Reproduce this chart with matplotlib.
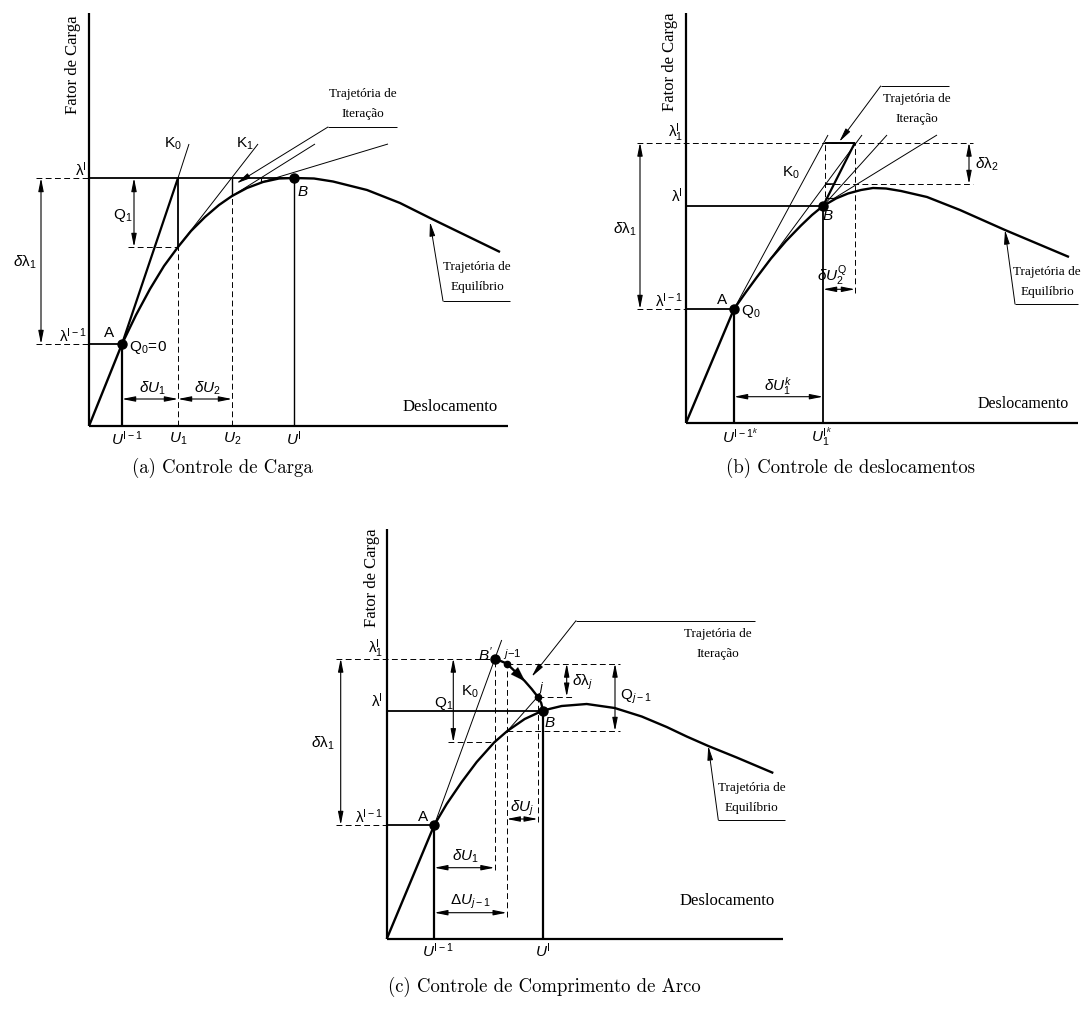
import matplotlib.pyplot as plt

plt.rcParams['mathtext.fontset'] = 'custom'
plt.rcParams['mathtext.rm'] = 'Liberation Sans'
plt.rcParams['mathtext.it'] = 'Liberation Sans:italic'
plt.rcParams['mathtext.bf'] = 'Liberation Sans:bold'

W, H = 1089, 1010

# (a) controle de carga  -- u = deslocamento, lam = fator de carga
a_curve_u = [0, 33, 47, 61, 75, 89, 102, 116, 130, 143, 158, 174, 190, 205, 225, 244, 278, 311, 341, 376, 411]
a_curve_lam = [0, 82, 111, 137, 160, 179, 195, 209, 221, 230, 238, 244, 247.5, 248, 247.5, 244.5, 236, 223, 208, 191, 174]
a_u = [33, 89, 143, 205]          # U^(I-1), U1, U2, U^I
a_lam = [82, 248]                 # lambda^(I-1), lambda^I
a_lam_iter = [179, 230, 243.6]    # curve hit at U1, U2 and next step
a_k0_u, a_k0_lam = [33, 89, 100], [82, 248, 282]
a_k1 = [(89, 179), (169, 282)]
a_k2 = [(143, 230), (226, 282)]
a_k3 = [(171.6, 243.6), (299, 282)]

# (b) controle de deslocamentos
b_curve_u = [0, 48, 60, 71, 85, 100, 115, 126, 137, 150, 162, 175, 187, 200, 215, 241, 274, 319, 383]
b_curve_lam = [0, 114, 131, 146, 164.5, 182, 197.5, 208, 217, 224.5, 229.5, 233, 235, 234.5, 232, 226, 213, 193, 166]
b_u = [48, 137, 169]              # U^(I-1)k, U1^Ik, U2
b_lam = [114, 217, 239, 280.5]    # lambda^(I-1), lambda^I, step 2, lambda1^I
b_k0 = [(48, 114), (142, 288)]
b_tangents = [[(71, 146), (176, 288)], [(137, 217), (201, 288)], [(147, 224), (251, 288)]]
b_iter = [(137, 217), (169, 280.5)]

# (c) controle de comprimento de arco
c_curve_u = [0, 47.6, 60, 75, 90, 107.6, 120.6, 138, 156.3, 175, 200, 228, 255, 280, 300, 321.6, 350, 386.6]
c_curve_lam = [0, 114, 135, 157, 177, 196.7, 208, 220, 228.5, 233, 235, 231, 222.5, 212, 202.5, 193, 181.5, 166]
c_arc_u = [107.8, 120, 130, 138, 145, 151, 154.5, 156.3]
c_arc_lam = [280.5, 275.5, 266, 258, 250, 242.3, 236, 228.5]
c_u = [47.6, 107.8, 120, 151, 156.3]         # A, B', j-1, j, B
c_lam = [114, 280.5, 275.5, 242.3, 228.5]
c_lam_q = [196.7, 208]
c_k0 = [(47.6, 114), (115, 299)]
c_kj = [(120.6, 208), (151, 242.3)]

DASH = (0, (6, 3.5))
SERIF = 'Liberation Serif'
LAM = r'\mathrm{\lambda}'

fig = plt.figure(figsize=(W / 100, H / 100), dpi=100)


def panel(px0, py0, px1, py1, ox, oy):
    ax = fig.add_axes([px0 / W, 1 - py1 / H, (px1 - px0) / W, (py1 - py0) / H])
    ax.set_xlim(px0 - ox, px1 - ox)
    ax.set_ylim(oy - py1, oy - py0)
    ax.axis('off')
    ax.patch.set_alpha(0)
    return ax


def line(ax, u, v, lw=0.7, ls='-', z=2):
    ax.plot(u, v, color='k', lw=lw, linestyle=ls, solid_capstyle='butt',
            dash_capstyle='butt', clip_on=False, zorder=z)


def dim(ax, p, q):
    ax.annotate('', xy=q, xytext=p,
                arrowprops=dict(arrowstyle='<|-|>,head_length=0.65,head_width=0.13',
                                color='k', lw=0.8, shrinkA=0, shrinkB=0, mutation_scale=12))


def leader(ax, tip, corner, end):
    line(ax, [corner[0], end[0]], [corner[1], end[1]])
    ax.annotate('', xy=tip, xytext=corner,
                arrowprops=dict(arrowstyle='-|>,head_length=0.7,head_width=0.14',
                                color='k', lw=0.7, shrinkA=0, shrinkB=0, mutation_scale=12))


def frame(ax, top, right, ylabel_u, xlabel_pos, xsize=12):
    line(ax, [0, 0], [0, top], lw=1.6, z=3)
    line(ax, [0, right], [0, 0], lw=1.6, z=3)
    ax.text(ylabel_u, 361.5, 'Fator de Carga', rotation=90, ha='center', va='center',
            family=SERIF, fontsize=12)
    ax.text(*xlabel_pos, 'Deslocamento', ha='center', va='center', family=SERIF, fontsize=xsize)


def txt(ax, u, v, s, size=11, ha='center', va='center'):
    ax.text(u, v, s, ha=ha, va=va, fontsize=size, family='Liberation Sans')


def note(ax, u, v, second):
    ax.text(u, v + 10, 'Trajetória de', ha='center', va='center', family=SERIF, fontsize=9.5)
    ax.text(u, v - 10, second, ha='center', va='center', family=SERIF, fontsize=9.5)


def dots(ax, u, v, ms=6.5):
    ax.plot(u, v, 'o', color='k', ms=ms, zorder=6, clip_on=False)


# ---------------- (a)
ax = panel(0, 0, 545, 500, 89, 426)
frame(ax, 413, 419, -16, (361, 19))
for lam in a_lam:
    line(ax, [-53, 0], [lam, lam], ls=DASH)
line(ax, [39, a_u[1]], [a_lam_iter[0]] * 2, ls=DASH)
line(ax, [a_u[1]] * 2, [0, a_lam_iter[0]], ls=DASH)
line(ax, [a_u[2]] * 2, [0, a_lam_iter[1]], ls=DASH)
line(ax, [0, a_u[3]], [a_lam[1]] * 2, lw=1.3)
line(ax, [0, a_u[0]], [a_lam[0]] * 2, lw=1.3)
line(ax, [a_u[0]] * 2, [0, a_lam[0]], lw=1.6)
line(ax, [a_u[1]] * 2, [a_lam_iter[0], a_lam[1]], lw=1.3)
line(ax, [a_u[2]] * 2, [a_lam_iter[1], a_lam[1]], lw=1.0)
line(ax, [a_k3[0][0]] * 2, [a_lam_iter[2], a_lam[1]], lw=0.8)
line(ax, [a_u[3]] * 2, [0, a_lam[1]], lw=1.0)
line(ax, a_k0_u[:2], a_k0_lam[:2], lw=1.6)
line(ax, a_k0_u[1:], a_k0_lam[1:], lw=0.7)
for seg in (a_k1, a_k2, a_k3):
    line(ax, [seg[0][0], seg[1][0]], [seg[0][1], seg[1][1]], lw=0.7)
line(ax, a_curve_u, a_curve_lam, lw=1.7, z=4)
dots(ax, [a_u[0], a_u[3]], [a_lam[0], a_lam[1]])
dim(ax, (45, a_lam[1]), (45, a_lam_iter[0]))
dim(ax, (-48, a_lam[1]), (-48, a_lam[0]))
dim(ax, (a_u[0], 27), (a_u[1], 27))
dim(ax, (a_u[1], 27), (a_u[2], 27))
leader(ax, (147.7, 242.7), (239, 299), (308, 299))
leader(ax, (341, 204), (354, 125), (421, 125))
note(ax, 274, 322, 'Iteração')
note(ax, 388, 149, 'Equilíbrio')
txt(ax, -2, a_lam[1] - 1, rf'${LAM}^{{\mathrm{{I}}}}$', ha='right', va='bottom')
txt(ax, -2, a_lam[0] - 1, rf'${LAM}^{{\mathrm{{I-1}}}}$', ha='right', va='bottom')
txt(ax, 20, 93, 'A')
txt(ax, 40, 79, r'$\mathrm{Q}_0\!=\!0$', ha='left')
txt(ax, 214, 234, r'$B$')
txt(ax, 84, 282, r'$\mathrm{K}_0$')
txt(ax, 156, 282, r'$\mathrm{K}_1$')
txt(ax, 34, 211, r'$\mathrm{Q}_1$')
txt(ax, -64, 164, rf'$\delta{LAM}_1$')
txt(ax, 63, 38, r'$\delta U_1$')
txt(ax, 118, 38, r'$\delta U_2$')
txt(ax, 38, -13, r'$U^{\mathrm{I-1}}$')
txt(ax, 89, -13, r'$U_1$')
txt(ax, 143, -13, r'$U_2$')
txt(ax, 205, -13, r'$U^{\mathrm{I}}$')
ax.text(133, -42, '(a) Controle de Carga', ha='center', va='center', family='cmr10', fontsize=13.5)

# ---------------- (b)
ax = panel(545, 0, 1089, 500, 686, 423)
frame(ax, 410, 392, -16, (337, 19), xsize=11.5)
line(ax, [-49, 287], [b_lam[3]] * 2, ls=DASH)
line(ax, [139, 287], [b_lam[2]] * 2, ls=DASH)
line(ax, [-49, 0], [b_lam[0]] * 2, ls=DASH)
line(ax, [139, 139], [b_lam[1], b_lam[3]], ls=DASH)
line(ax, [b_u[2]] * 2, [129.7, b_lam[3]], ls=DASH)
line(ax, [0, b_u[1]], [b_lam[1]] * 2, lw=1.3)
line(ax, [0, b_u[0]], [b_lam[0]] * 2, lw=1.3)
line(ax, [b_u[0]] * 2, [0, b_lam[0]], lw=1.6)
line(ax, [b_u[1]] * 2, [0, b_lam[1]], lw=1.3)
line(ax, [139, b_u[2]], [b_lam[3]] * 2, lw=1.4)
line(ax, [139, 148], [b_lam[2]] * 2, lw=1.1)
line(ax, [139, 149], [224.7] * 2, lw=0.9)
line(ax, [b_k0[0][0], b_k0[1][0]], [b_k0[0][1], b_k0[1][1]], lw=0.7)
for seg in b_tangents:
    line(ax, [seg[0][0], seg[1][0]], [seg[0][1], seg[1][1]], lw=0.7)
line(ax, [b_iter[0][0], b_iter[1][0]], [b_iter[0][1], b_iter[1][1]], lw=1.6)
line(ax, b_curve_u, b_curve_lam, lw=1.7, z=4)
dots(ax, [b_u[0], b_u[1]], [b_lam[0], b_lam[1]])
dim(ax, (-46, b_lam[3]), (-46, b_lam[0]))
dim(ax, (283, b_lam[3]), (283, b_lam[2]))
dim(ax, (b_u[1], 133.7), (b_u[2], 133.7))
dim(ax, (b_u[0], 26.3), (b_u[1], 26.3))
leader(ax, (153.3, 281.3), (194.7, 337), (263.3, 337))
leader(ax, (319, 193), (329, 119), (392, 119))
note(ax, 230.7, 314, 'Iteração')
note(ax, 361.3, 141.3, 'Equilíbrio')
txt(ax, -3, b_lam[3] - 1, rf'${LAM}^{{\mathrm{{I}}}}_1$', ha='right', va='bottom')
txt(ax, -3, b_lam[1] + 1, rf'${LAM}^{{\mathrm{{I}}}}$', ha='right', va='bottom')
txt(ax, -3, b_lam[0] - 1, rf'${LAM}^{{\mathrm{{I-1}}}}$', ha='right', va='bottom')
txt(ax, 35.7, 123, 'A')
txt(ax, 55, 112, r'$\mathrm{Q}_0$', ha='left')
txt(ax, 142.3, 207, r'$B$')
txt(ax, 105, 249.7, r'$\mathrm{K}_0$')
txt(ax, -61, 194, rf'$\delta{LAM}_1$')
txt(ax, 289, 259, rf'$\delta{LAM}_2$', ha='left')
txt(ax, 145.7, 147, r'$\delta U_2^{\mathrm{Q}}$')
txt(ax, 92, 37, r'$\delta U_1^{k}$')
txt(ax, 54, -14, r'$U^{\mathrm{I-1}^{k}}$')
txt(ax, 135.7, -14, r'$U_1^{\mathrm{I}^{k}}$')
ax.text(164, -45, '(b) Controle de deslocamentos', ha='center', va='center', family='cmr10', fontsize=13.5)

# ---------------- (c)
ax = panel(280, 500, 820, 1010, 386.7, 939)
frame(ax, 410, 396, -15, (340, 38))
line(ax, [-50.7, c_u[1]], [c_lam[1]] * 2, ls=DASH)
line(ax, [c_u[2], 233.3], [c_lam[2]] * 2, ls=DASH)
line(ax, [c_u[3], 186.6], [c_lam[3]] * 2, ls=DASH)
line(ax, [c_kj[0][0], 233.3], [c_lam_q[1]] * 2, ls=DASH)
line(ax, [61, c_u[1]], [c_lam_q[0]] * 2, ls=DASH)
line(ax, [-50.7, 0], [c_lam[0]] * 2, ls=DASH)
line(ax, [c_u[1]] * 2, [69, c_lam[1]], ls=DASH)
line(ax, [c_u[2]] * 2, [22.3, c_lam[2]], ls=DASH)
line(ax, [c_u[3]] * 2, [117, c_lam[3]], ls=DASH)
line(ax, [0, c_u[4]], [c_lam[4]] * 2, lw=1.3)
line(ax, [0, c_u[0]], [c_lam[0]] * 2, lw=1.3)
line(ax, [c_u[0]] * 2, [0, c_lam[0]], lw=1.6)
line(ax, [c_u[4]] * 2, [0, c_lam[4]], lw=1.6)
line(ax, [c_k0[0][0], c_k0[1][0]], [c_k0[0][1], c_k0[1][1]], lw=0.7)
line(ax, [c_kj[0][0], c_kj[1][0]], [c_kj[0][1], c_kj[1][1]], lw=0.7)
line(ax, c_curve_u, c_curve_lam, lw=1.7, z=4)
line(ax, c_arc_u, c_arc_lam, lw=1.7, z=4)
ax.annotate('', xy=(138.5, 257.5), xytext=(131, 265),
            arrowprops=dict(arrowstyle='-|>,head_length=0.9,head_width=0.3',
                            color='k', lw=0.1, shrinkA=0, shrinkB=0, mutation_scale=12))
dots(ax, [c_u[0], c_u[1], c_u[4]], [c_lam[0], c_lam[1], c_lam[4]])
dots(ax, [c_u[2], c_u[3]], [c_lam[2], c_lam[3]], ms=4.5)
dim(ax, (-46, c_lam[1]), (-46, c_lam[0]))
dim(ax, (66.6, c_lam[1]), (66.6, c_lam_q[0]))
dim(ax, (180, c_lam[2]), (180, c_lam[3]))
dim(ax, (228.3, c_lam[2]), (228.3, c_lam_q[1]))
dim(ax, (c_u[0], 71.3), (c_u[1], 71.3))
dim(ax, (c_u[0], 26.3), (c_u[2], 26.3))
dim(ax, (c_u[2], 120), (c_u[3], 120))
leader(ax, (145, 262.3), (189.3, 318.3), (368.3, 318.3))
leader(ax, (321.6, 193), (331.6, 119), (398.3, 119))
note(ax, 331.6, 294.7, 'Iteração')
note(ax, 365, 141.5, 'Equilíbrio')
txt(ax, -4, c_lam[1] - 1, rf'${LAM}^{{\mathrm{{I}}}}_1$', ha='right', va='bottom')
txt(ax, -4, c_lam[4] + 1, rf'${LAM}^{{\mathrm{{I}}}}$', ha='right', va='bottom')
txt(ax, -4, c_lam[0] - 1, rf'${LAM}^{{\mathrm{{I-1}}}}$', ha='right', va='bottom')
txt(ax, 36, 122.3, 'A')
txt(ax, 98.3, 284, r"$B'$")
txt(ax, 126, 285, r'$j\!-\!1$', size=8)
txt(ax, 155, 251, r'$j$', size=9)
txt(ax, 163.3, 216.3, r'$B$')
txt(ax, 83.3, 247.3, r'$\mathrm{K}_0$')
txt(ax, 56.6, 235.7, r'$\mathrm{Q}_1$')
txt(ax, -63.4, 195.7, rf'$\delta{LAM}_1$')
txt(ax, 185, 256.3, rf'$\delta{LAM}_j$', ha='left')
txt(ax, 233.3, 242.3, r'$\mathrm{Q}_{j-1}$', ha='left')
txt(ax, 78.3, 83, r'$\delta U_1$')
txt(ax, 83.3, 37.3, r'$\Delta U_{j-1}$')
txt(ax, 135, 130.7, r'$\delta U_j$')
txt(ax, 51.6, -12, r'$U^{\mathrm{I-1}}$')
txt(ax, 156, -12, r'$U^{\mathrm{I}}$')
ax.text(157.3, -48, '(c) Controle de Comprimento de Arco', ha='center', va='center',
        family='cmr10', fontsize=13.5)

fig.savefig('out.png', dpi=100, facecolor='white')
